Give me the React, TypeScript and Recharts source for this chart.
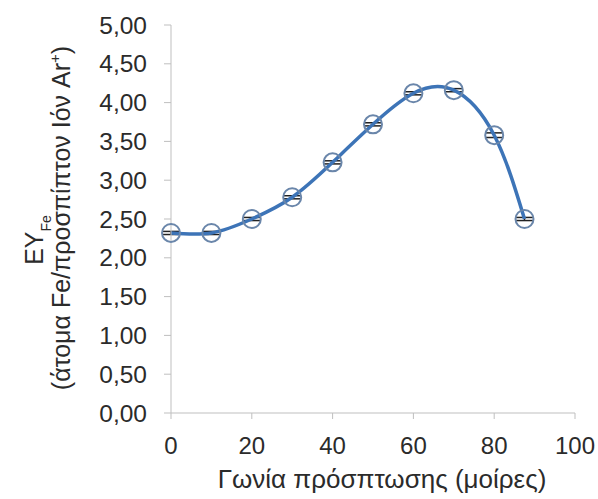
import { LineChart, Line, XAxis, YAxis, ErrorBar } from 'recharts';

// incidence angle (degrees) vs sputtering yield of Fe
const angles = [0, 10, 20, 30, 40, 50, 60, 70, 80, 87.5];
const yields = [2.32, 2.32, 2.5, 2.78, 3.23, 3.72, 4.12, 4.16, 3.58, 2.5];
const errors = [0.02, 0.02, 0.02, 0.02, 0.02, 0.02, 0.02, 0.02, 0.03, 0.02];

const xTicks = [0, 20, 40, 60, 80, 100];
const yTicks = [0, 0.5, 1, 1.5, 2, 2.5, 3, 3.5, 4, 4.5, 5];

const data = angles.map((angle, i) => ({ angle, ey: yields[i], err: errors[i] }));

const FONT = '"Liberation Sans", Arial, sans-serif';
const TEXT = '#2b2b2b';
const AXIS = '#bfbfbf';

const fmtComma = (v: number) => v.toFixed(2).replace('.', ',');

function YTitle() {
  return (
    <g fontFamily={FONT} fill={TEXT} fontSize={25}>
      <text transform="translate(43, 240) rotate(-90)" textAnchor="middle">
        EY<tspan fontSize={14} dy={8}>Fe</tspan>
      </text>
      <text transform="translate(70, 218) rotate(-90)" textAnchor="middle">
        (άτομα Fe/προσπίπτον Ιόν Ar<tspan fontSize={15} dy={-10}>+</tspan>
        <tspan dy={10}>)</tspan>
      </text>
    </g>
  );
}

function XTitle() {
  return (
    <text x={382} y={488} textAnchor="middle" fontFamily={FONT} fontSize={26} fill={TEXT}>
      Γωνία πρόσπτωσης (μοίρες)
    </text>
  );
}

export default function App() {
  return (
    <div style={{ position: 'absolute', left: 0, top: 0, background: '#fff' }}>
      <LineChart
        width={598}
        height={499}
        data={data}
        margin={{ top: 25, right: 23, bottom: 0, left: 0 }}
      >
        <XAxis
          dataKey="angle"
          type="number"
          domain={[0, 100]}
          ticks={xTicks}
          interval={0}
          height={86}
          stroke={AXIS}
          tickSize={6}
          tickMargin={18}
          tick={{ fontSize: 24, fill: TEXT, fontFamily: FONT }}
          label={() => <XTitle />}
        />
        <YAxis
          type="number"
          domain={[0, 5]}
          ticks={yTicks}
          interval={0}
          width={171}
          stroke={AXIS}
          tickSize={7}
          tickMargin={17}
          tickFormatter={fmtComma}
          tick={{ fontSize: 24.5, fill: TEXT, fontFamily: FONT }}
          label={() => <YTitle />}
        />
        <Line
          type="natural"
          dataKey="ey"
          stroke="#3d74b7"
          strokeWidth={3.5}
          dot={{ r: 9, stroke: '#6a86aa', strokeWidth: 2, fill: 'none' }}
          isAnimationActive={false}
        >
          <ErrorBar dataKey="err" direction="y" width={9} stroke="#222" strokeWidth={1.5} />
        </Line>
      </LineChart>
    </div>
  );
}
